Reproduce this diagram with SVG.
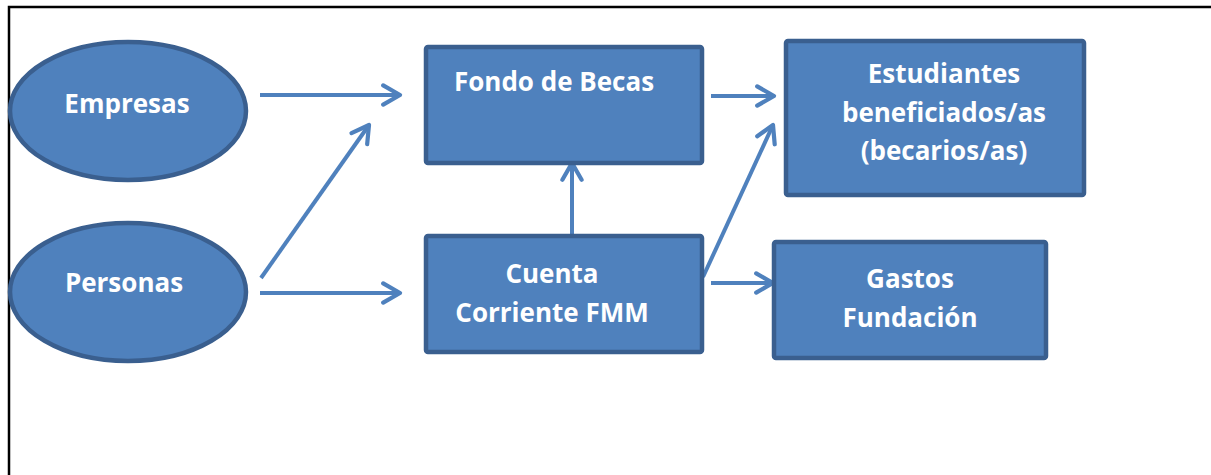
<svg xmlns="http://www.w3.org/2000/svg" width="1211" height="475" viewBox="0 0 1211 475">
<defs>
<style>
.node{fill:#4F81BD;stroke:#3A5F8F;stroke-width:4.5}
.lbl{fill:#FFFFFF;font-family:"Open Sans","Liberation Sans",sans-serif;font-weight:bold;font-size:26px;text-anchor:middle}
.con{stroke:#4F81BD;stroke-width:4;fill:none}
</style>
<marker id="arr" viewBox="0 0 20 20" refX="17" refY="10" markerWidth="6" markerHeight="6" markerUnits="strokeWidth" orient="auto">
<path d="M3,2 L17,10 L3,18" fill="none" stroke="#4F81BD" stroke-width="3.5" stroke-linecap="round" stroke-linejoin="round"/>
</marker>
</defs>
<rect width="1211" height="475" fill="#FFFFFF"/>
<path d="M9,475 V7 H1211" fill="none" stroke="#000000" stroke-width="2.5"/>
<g id="connectors">
<line class="con" x1="260" y1="95" x2="400" y2="95" marker-end="url(#arr)"/>
<line class="con" x1="261" y1="278" x2="369" y2="125" marker-end="url(#arr)"/>
<line class="con" x1="260" y1="293" x2="400" y2="293" marker-end="url(#arr)"/>
<line class="con" x1="572" y1="237" x2="572" y2="163" marker-end="url(#arr)"/>
<line class="con" x1="711" y1="96" x2="774" y2="96" marker-end="url(#arr)"/>
<line class="con" x1="703" y1="277" x2="773" y2="125" marker-end="url(#arr)"/>
<line class="con" x1="711" y1="283" x2="773" y2="283" marker-end="url(#arr)"/>
</g>
<g id="empresas">
<ellipse class="node" cx="128" cy="111" rx="118" ry="69"/>
<text class="lbl" x="127" y="113">Empresas</text>
</g>
<g id="personas">
<ellipse class="node" cx="128" cy="292" rx="118" ry="69"/>
<text class="lbl" x="124" y="292">Personas</text>
</g>
<g id="fondo">
<rect class="node" x="426" y="47" width="276" height="116" rx="2"/>
<text class="lbl" x="554" y="91">Fondo de Becas</text>
</g>
<g id="cuenta">
<rect class="node" x="426" y="236" width="276" height="116" rx="2"/>
<text class="lbl" x="552" y="283">Cuenta</text>
<text class="lbl" x="552" y="322">Corriente FMM</text>
</g>
<g id="estudiantes">
<rect class="node" x="786" y="41" width="298" height="154" rx="2"/>
<text class="lbl" x="944" y="83">Estudiantes</text>
<text class="lbl" x="944" y="122">beneficiados/as</text>
<text class="lbl" x="944" y="160">(becarios/as)</text>
</g>
<g id="gastos">
<rect class="node" x="774" y="242" width="272" height="116" rx="2"/>
<text class="lbl" x="910" y="288">Gastos</text>
<text class="lbl" x="910" y="327">Fundación</text>
</g>
</svg>
